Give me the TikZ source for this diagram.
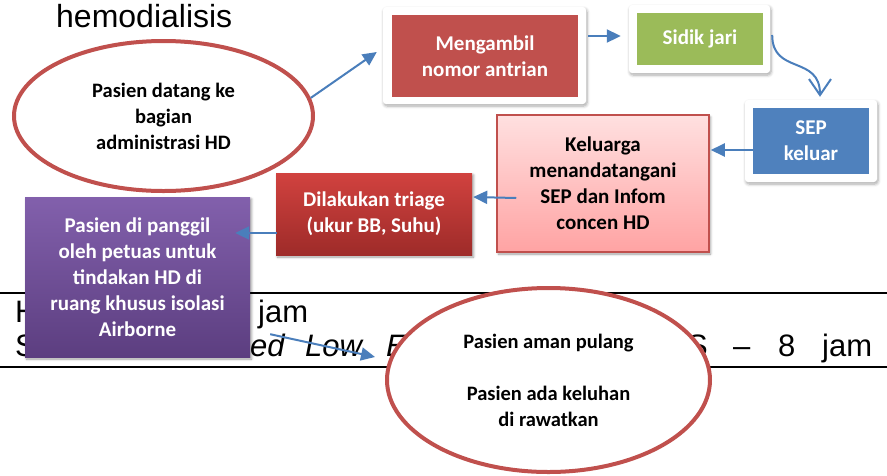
\documentclass[tikz,border=0pt]{standalone}
\usepackage{fontspec}
\setmainfont{Carlito}
\newfontfamily\docfont{Liberation Sans}
\usetikzlibrary{shapes.geometric,arrows.meta,calc,shadows.blur}

\definecolor{accred}{HTML}{C0504D}
\definecolor{accgreen}{HTML}{9BBB59}
\definecolor{accblue}{HTML}{4F81BD}
\definecolor{arrowblue}{HTML}{4A7EBB}
\definecolor{pinktop}{HTML}{FFE0E0}
\definecolor{pinkbot}{HTML}{FFA3A3}
\definecolor{triagetop}{HTML}{D1423F}
\definecolor{triagebot}{HTML}{9E2B29}
\definecolor{purptop}{HTML}{8260AC}
\definecolor{purpbot}{HTML}{5C3E80}

\begin{document}
\begin{tikzpicture}[x=1pt,y=-1pt,
  doc/.style={font=\docfont\fontsize{31}{36}\selectfont, anchor=base west, inner sep=0pt},
  boxtext/.style={font=\bfseries\fontsize{21}{26}\selectfont, align=center, inner sep=0pt},
  oval/.style={ellipse, draw=accred, line width=4pt, fill=white, inner sep=0pt,
    font=\bfseries\fontsize{20.5}{26}\selectfont, align=center},
  framebox/.style={fill=white, rounded corners=3pt, inner sep=0pt,
    blur shadow={shadow xshift=1pt, shadow yshift=-2pt, shadow blur steps=6,
      shadow blur radius=3pt, shadow opacity=35}},
  softshadow/.style={blur shadow={shadow xshift=1.5pt, shadow yshift=-2pt,
      shadow blur steps=5, shadow blur radius=2.5pt, shadow opacity=40}},
  flow/.style={draw=arrowblue, line width=2pt, -{Triangle[length=14pt,width=13pt]}},
  curvy/.style={draw=arrowblue, line width=2pt, -{Straight Barb[length=16pt,width=22pt]}}
]
\useasboundingbox (0,0) rectangle (887,475);

% page text lying behind the chart
\draw[line width=1.8pt] (0,293) -- (887,293);
\draw[line width=1.8pt] (0,367) -- (887,367);
\node[doc, font=\docfont\fontsize{32}{36}\selectfont] (t0) at (56,27) {hemodialisis};
\node[doc] (t1) at (15,322) {H};
\node[doc] (t2) at (258,322) {jam};
\node[doc] (t3) at (15,356) {S};
\node[doc] (t5) at (250,356) {\itshape ed};
\node[doc] (t6) at (305,356) {\itshape Low};
\node[doc] (t7) at (386,356) {\itshape E};
\node[doc] (t8) at (687,356) {S};
\node[doc] (t9) at (733,356) {–};
\node[doc] (t10) at (778,356) {8};
\node[doc] (t11) at (822,356) {jam};

% start
\node[oval, minimum width=299pt, minimum height=150pt] (start) at (163.5,116)
  {Pasien datang ke\\bagian\\administrasi HD};

% framed steps along the top
\node[framebox, minimum width=203pt, minimum height=97pt] (mengf) at (484.5,55.5) {};
\node[boxtext, fill=accred, text=white, minimum width=186pt, minimum height=82pt]
  (meng) at (485,56) {Mengambil\\nomor antrian};

\node[framebox, minimum width=141pt, minimum height=68pt] (sidikf) at (699.5,39) {};
\node[boxtext, fill=accgreen, text=white, minimum width=126pt, minimum height=52pt]
  (sidik) at (700,39) {Sidik jari};

\node[framebox, minimum width=132pt, minimum height=82pt] (sepf) at (811,141) {};
\node[boxtext, fill=accblue, text=white, minimum width=116pt, minimum height=66pt]
  (sep) at (811,141) {SEP\\keluar};

% consent, triage and call
\node[boxtext, draw=accred, line width=1.5pt, top color=pinktop, bottom color=pinkbot,
  softshadow, minimum width=212pt, minimum height=137pt]
  (kel) at (603,183.5) {Keluarga\\menandatangani\\SEP dan Infom\\concen HD};

\node[boxtext, top color=triagetop, bottom color=triagebot, text=white, softshadow,
  minimum width=196pt, minimum height=82pt]
  (triage) at (374,214) {Dilakukan triage\\(ukur BB, Suhu)};

\node[boxtext, top color=purptop, bottom color=purpbot, text=white, softshadow,
  minimum width=225pt, minimum height=160pt]
  (call) at (137.5,277) {Pasien di panggil\\oleh petuas untuk\\tindakan HD di\\ruang khusus isolasi\\Airborne};

% outcome
\node[oval, minimum width=323pt, minimum height=184pt] (done) at (548.5,380)
  {Pasien aman pulang\\[26pt]Pasien ada keluhan\\di rawatkan};

% connectors
\draw[flow] (start.7) -- ($(mengf.west)+(-6,-3.5)$);
\draw[flow] ($(mengf.east)+(2,-19.5)$) -- ($(sidikf.west)+(-8,-3)$);
\draw[curvy] ($(sidikf.east)+(2,-4)$) .. controls +(0,40) and +(0,-42) .. ($(sepf.north)+(9,-3)$);
\draw[flow] ($(sep.west)+(0,9)$) -- ($(kel.east)+(1,-33.5)$);
\draw[flow] ($(kel.west)+(20,14.5)$) -- ($(triage.east)+(1,-17)$);
\draw[flow] ($(triage.west)+(1,19)$) -- ($(call.east)+(-15,-44)$);
\draw[flow] ($(call.south east)+(20,-23)$) -- ($(done.center)+(-173.5,-23)$);
\end{tikzpicture}
\end{document}
